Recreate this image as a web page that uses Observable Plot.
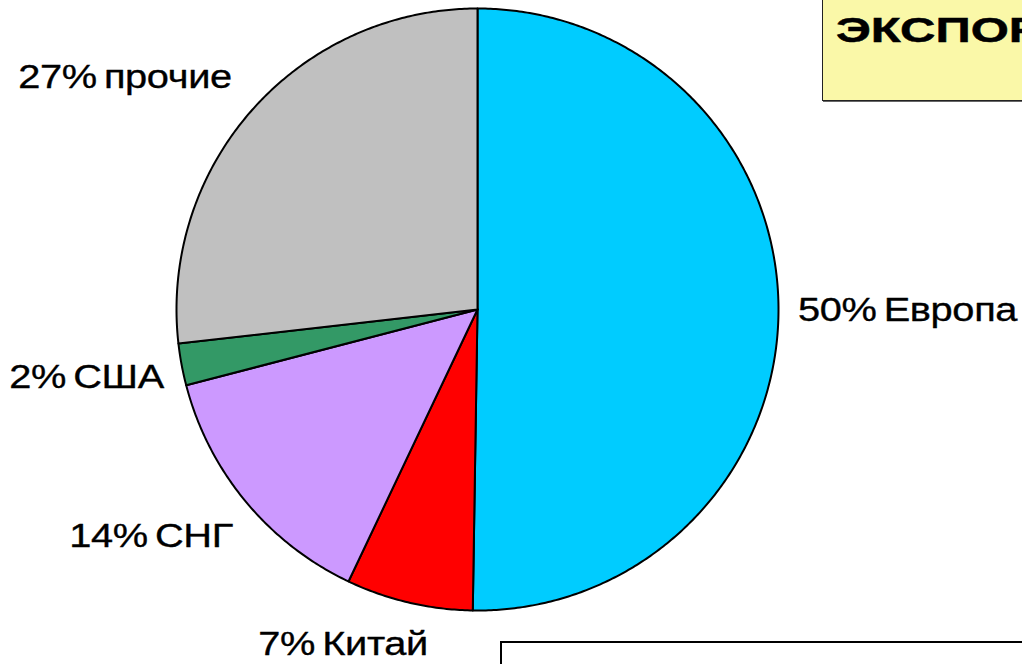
<!DOCTYPE html>
<html><head><meta charset="utf-8">
<script src="https://cdn.jsdelivr.net/npm/d3@7"></script>
<script src="https://cdn.jsdelivr.net/npm/@observablehq/plot@0.6"></script>
<style>
html,body{margin:0;padding:0;background:#fff;overflow:hidden;width:1022px;height:664px;}
#wrap{position:relative;width:1022px;height:664px;overflow:hidden;}
#chart{position:absolute;left:0;top:0;}
#title{position:absolute;left:822px;top:-4px;width:260px;height:105px;background:#FAF8A8;border:1.5px solid #222;box-shadow:1px 1px 0 #666;box-sizing:border-box;overflow:hidden;}
#title span{position:absolute;left:13px;top:15px;font:bold 35px "Liberation Sans",Arial,sans-serif;line-height:1;transform:scaleX(1.4);transform-origin:left center;white-space:nowrap;color:#000;-webkit-text-stroke:0.5px #000;}
#note{position:absolute;left:500px;top:641px;width:600px;height:100px;border:2px solid #000;background:#fff;box-sizing:border-box;}
</style>
</head><body>
<div id="wrap">
  <div id="chart"></div>
  <div id="title"><span>ЭКСПОРТ</span></div>
  <div id="note"></div>
</div>
<script>
const categories = ["Европа", "Китай", "СНГ", "США", "прочие"];
const shares = [50.25, 6.8, 13.9, 2.25, 26.8];
const labels = ["50% Европа", "7% Китай", "14% СНГ", "2% США", "27% прочие"];
const colors = ["#00CCFF", "#FF0000", "#CC99FF", "#339966", "#C0C0C0"];
const labelOffsets = [[129, 9.5], [-66, 52], [-94.5, 45.6], [-95, 23], [-128, -21]];

const arcs = d3.pie().sort(null).value(d => d)(shares);
const pts = [];
const anchors = [];
arcs.forEach((a, i) => {
  const k = categories[i];
  pts.push({k, x: 0, y: 0});
  const n = Math.max(2, Math.ceil((a.endAngle - a.startAngle) / (Math.PI / 360)));
  for (let j = 0; j <= n; j++) {
    const t = a.startAngle + (a.endAngle - a.startAngle) * j / n;
    pts.push({k, x: Math.sin(t), y: Math.cos(t)});
  }
  pts.push({k, x: 0, y: 0});
  const mid = (a.startAngle + a.endAngle) / 2;
  anchors.push({label: labels[i], x: Math.sin(mid), y: Math.cos(mid)});
});

const textMarks = anchors.map((d, i) => Plot.text([d], {
  x: "x", y: "y", text: "label",
  dx: labelOffsets[i][0], dy: labelOffsets[i][1],
  textAnchor: "middle", lineAnchor: "bottom",
  fontSize: 34, fontFamily: "Liberation Sans, Arial, sans-serif",
  fill: "#000", stroke: "#000", strokeWidth: 0.35
}));

const chart = Plot.plot({
  width: 1022,
  height: 664,
  marginLeft: 176,
  marginRight: 244,
  marginTop: 8,
  marginBottom: 54,
  x: {domain: [-1, 1], axis: null},
  y: {domain: [-1, 1], axis: null},
  color: {domain: categories, range: colors},
  marks: [
    Plot.line(pts, {x: "x", y: "y", z: "k", fill: "k", stroke: "#000", strokeWidth: 2, strokeLinejoin: "round"}),
    ...textMarks
  ]
});
// widen the label glyphs horizontally around their centre and tighten the word gap, as in the reference
d3.select(chart).selectAll('g[aria-label="text"] text').each(function () {
  const t = this.getAttribute("transform") || "";
  this.setAttribute("transform", (t + " scale(1.17,1)").trim());
  this.setAttribute("word-spacing", "-3px");
  this.setAttribute("letter-spacing", "-0.3px");
});
document.getElementById("chart").appendChild(chart);
</script>
</body></html>
